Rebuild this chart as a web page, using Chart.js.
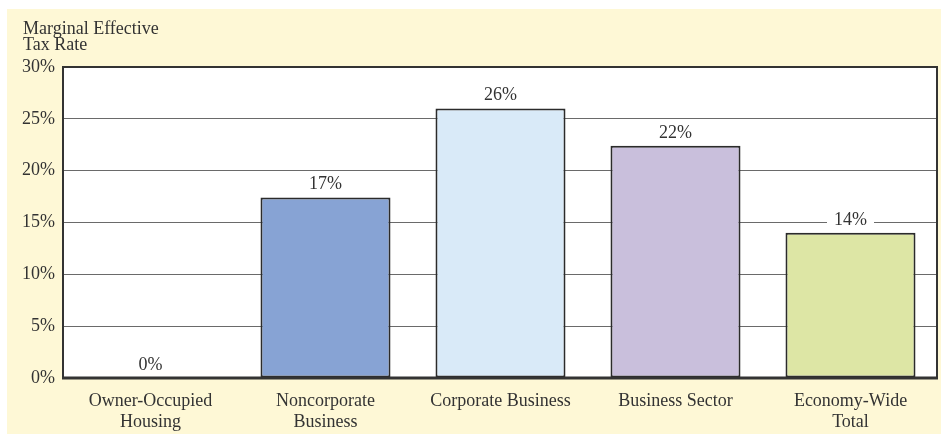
<!DOCTYPE html>
<html>
<head>
<meta charset="utf-8">
<script src="https://cdn.jsdelivr.net/npm/chart.js@4/dist/chart.umd.min.js"></script>
<style>
  body { margin: 0; background: #ffffff; }
  canvas { display: block; }
</style>
</head>
<body>
<canvas id="tax_chart" width="941" height="434"></canvas>
<script>
// DATA
const categories = [["Owner-Occupied", "Housing"], ["Noncorporate", "Business"], "Corporate Business", "Business Sector", ["Economy-Wide", "Total"]];
const rates = [0, 17.4, 26.0, 22.4, 14.0];
const rateLabels = ["0%", "17%", "26%", "22%", "14%"];
const barColors = ["#ffffff", "#87a3d4", "#d9eaf8", "#c9bfdc", "#dde6a5"];
const axisTitle = ["Marginal Effective", "Tax Rate"];
const yMin = 0, yMax = 30, yStep = 5;

const FONT = "'Liberation Serif', 'DejaVu Serif', serif";
const TEXT = "#333333";

// background, plot frame, value labels, axis title
const decor = {
	id: "decor",
	beforeDraw(chart) {
		const c = chart.ctx, a = chart.chartArea;
		c.save();
		c.fillStyle = "#fef8d6";
		c.fillRect(7, 9, chart.width - 7, chart.height - 9);
		c.fillStyle = "#ffffff";
		c.fillRect(a.left, a.top, a.right - a.left, a.bottom - a.top);
		c.restore();
	},
	afterDatasetsDraw(chart) {
		const c = chart.ctx, a = chart.chartArea;
		const meta = chart.getDatasetMeta(0);
		c.save();
		c.font = "18px " + FONT;
		c.textAlign = "center";
		c.textBaseline = "middle";
		meta.data.forEach((bar, i) => {
			const txt = rateLabels[i];
			const w = c.measureText(txt).width + 14;
			const y = bar.y - 14;
			c.fillStyle = "#ffffff";
			c.fillRect(bar.x - w / 2, y - 9, w, 18);
			c.fillStyle = TEXT;
			c.fillText(txt, bar.x, y + 1);
		});
		// frame
		c.strokeStyle = "#333333";
		c.lineWidth = 2;
		c.strokeRect(a.left, a.top, a.right - a.left - 1, a.bottom - a.top);
		c.lineWidth = 3;
		c.beginPath();
		c.moveTo(a.left - 1, a.bottom);
		c.lineTo(a.right, a.bottom);
		c.stroke();
		// axis title
		c.font = "18px " + FONT;
		c.textAlign = "left";
		c.textBaseline = "alphabetic";
		c.fillStyle = TEXT;
		c.fillText(axisTitle[0], 23, 34);
		c.fillText(axisTitle[1], 23, 50);
		c.restore();
	}
};

const ctx = document.getElementById("tax_chart").getContext("2d");

let my_chart = new Chart(ctx, {
	type: "bar",
	data: {
		labels: categories,
		datasets: [{
			data: rates,
			backgroundColor: barColors,
			borderColor: "#2b2b2b",
			borderWidth: 2,
			borderSkipped: false,
			barPercentage: 0.743,
			categoryPercentage: 1.0
		}]
	},
	options: {
		responsive: false,
		animation: false,
		layout: { padding: { top: 67, left: 0, right: 3, bottom: 0 } },
		plugins: {
			legend: { display: false },
			tooltip: { enabled: false }
		},
		scales: {
			x: {
				grid: { display: false },
				border: { display: false },
				ticks: {
					color: TEXT,
					font: { family: FONT, size: 18, lineHeight: 1.2 },
					padding: 4,
					maxRotation: 0,
					autoSkip: false
				},
				afterFit(scale) { scale.height = 56; }
			},
			y: {
				min: yMin,
				max: yMax,
				grid: { color: "#6a6a6a", lineWidth: 1, drawTicks: false },
				border: { display: false },
				ticks: {
					stepSize: yStep,
					color: TEXT,
					font: { family: FONT, size: 18 },
					padding: 8,
					callback: v => v + "%"
				},
				afterFit(scale) { scale.width = 63; }
			}
		}
	},
	plugins: [decor]
});
</script>
</body>
</html>
